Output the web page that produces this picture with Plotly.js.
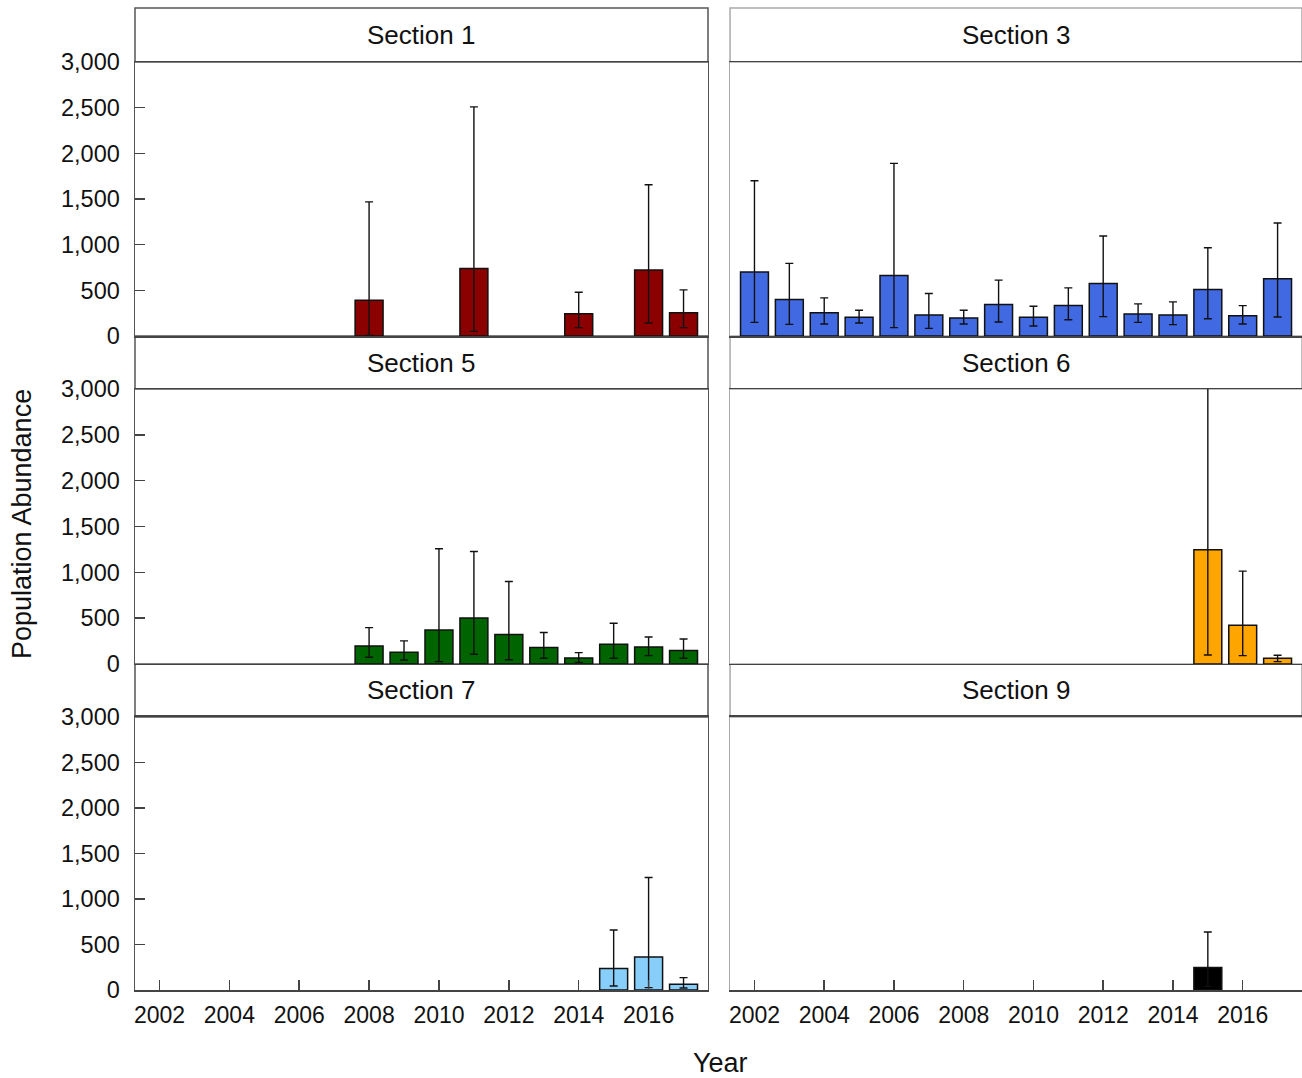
<!DOCTYPE html>
<html>
<head>
<meta charset="utf-8">
<script src="https://cdn.plot.ly/plotly-3.0.1.min.js"></script>
<style>html,body{margin:0;padding:0;background:#fff;}#chart{width:1302px;height:1078px;}</style>
</head>
<body>
<div id="chart"></div>
<script>
// ---- data (values, upper and lower error limits) ----
const sectionNames = ["Section 1", "Section 3", "Section 5", "Section 6", "Section 7", "Section 9"];
const sectionColors = ["#8B0000", "#4169E1", "#006400", "#FFA500", "#87CEFA", "#000000"];

const s1Years = [2008, 2011, 2014, 2016, 2017];
const s1Value = [392, 740, 245, 722, 256];
const s1Upper = [1469, 2509, 480, 1656, 505];
const s1Lower = [7, 51, 92, 143, 92];

const s3Years = [2002, 2003, 2004, 2005, 2006, 2007, 2008, 2009, 2010, 2011, 2012, 2013, 2014, 2015, 2016, 2017];
const s3Value = [700, 399, 256, 205, 663, 231, 198, 344, 205, 333, 575, 242, 231, 509, 223, 626];
const s3Upper = [1700, 795, 418, 282, 1890, 465, 282, 612, 326, 527, 1095, 352, 374, 967, 333, 1238];
const s3Lower = [150, 128, 132, 143, 92, 84, 132, 154, 110, 179, 212, 150, 125, 190, 132, 209];

const s5Years = [2008, 2009, 2010, 2011, 2012, 2013, 2014, 2015, 2016, 2017];
const s5Value = [197, 128, 372, 503, 321, 179, 66, 215, 186, 146];
const s5Upper = [397, 252, 1258, 1228, 900, 343, 124, 445, 295, 273];
const s5Lower = [73, 44, 26, 106, 47, 62, 18, 62, 91, 62];

const s6Years = [2015, 2016, 2017];
const s6Value = [1247, 423, 62];
const s6Upper = [3300, 1013, 95];
const s6Lower = [98, 91, 26];

const s7Years = [2015, 2016, 2017];
const s7Value = [235, 363, 62];
const s7Upper = [660, 1236, 136];
const s7Lower = [44, 26, 22];

const s9Years = [2015];
const s9Value = [246];
const s9Upper = [638];
const s9Lower = [40];

const yTickVals = [0, 500, 1000, 1500, 2000, 2500, 3000];
const xTickVals = [2002, 2004, 2006, 2008, 2010, 2012, 2014, 2016];

const series = [
  [s1Years, s1Value, s1Upper, s1Lower],
  [s3Years, s3Value, s3Upper, s3Lower],
  [s5Years, s5Value, s5Upper, s5Lower],
  [s6Years, s6Value, s6Upper, s6Lower],
  [s7Years, s7Value, s7Upper, s7Lower],
  [s9Years, s9Value, s9Upper, s9Lower]
];

// ---- layout geometry ----
const FONT = "Liberation Sans, Arial, sans-serif";
const xDomains = [[0, 0.491], [0.5099, 1]];
const yDomains = [[0.7047, 1], [0.3513, 0.6476], [0, 0.2942]];
const stripTop = 1.0582;

const traces = [];
const layout = {
  width: 1302, height: 1078,
  margin: {l: 135, r: 0, t: 62, b: 88},
  paper_bgcolor: "#fff", plot_bgcolor: "#fff",
  showlegend: false,
  font: {family: FONT, size: 23, color: "#111"},
  shapes: [], annotations: []
};

series.forEach((s, i) => {
  const row = Math.floor(i / 2), col = i % 2;
  const n = i + 1;
  const xa = n === 1 ? "x" : "x" + n;
  const ya = n === 1 ? "y" : "y" + n;
  traces.push({
    type: "bar", x: s[0], y: s[1], xaxis: xa, yaxis: ya,
    width: 0.8,
    marker: {color: sectionColors[i], line: {color: "#111", width: 1.5}},
    error_y: {
      type: "data", symmetric: false,
      array: s[2].map((u, k) => u - s[1][k]),
      arrayminus: s[1].map((v, k) => v - s[3][k]),
      color: "#111", thickness: 1.4, width: 4
    },
    hoverinfo: "x+y"
  });
  const bottom = row === 2;
  const left = col === 0;
  const vcol = left ? "#555" : "#aaa";
  layout["xaxis" + (n === 1 ? "" : n)] = {
    domain: xDomains[col], anchor: ya, range: [2001.3, 2017.7],
    showgrid: false, zeroline: false,
    showline: true, mirror: true, linecolor: "#444", linewidth: 1.5,
    tickvals: xTickVals, ticktext: xTickVals.map(String),
    ticks: bottom ? "inside" : "", ticklen: 10, tickcolor: "#444", tickwidth: 1.5,
    showticklabels: bottom, ticklabelstandoff: 4,
    tickfont: {family: FONT, size: 23, color: "#111"}
  };
  layout["yaxis" + (n === 1 ? "" : n)] = {
    domain: yDomains[row], anchor: xa, range: [0, 3000],
    showgrid: false, zeroline: false,
    showline: true, mirror: true, linecolor: vcol, linewidth: 1.5,
    tickvals: yTickVals, tickformat: ",",
    ticks: left ? "inside" : "", ticklen: 10, tickcolor: "#444", tickwidth: 1.5,
    showticklabels: left, ticklabelstandoff: 9,
    tickfont: {family: FONT, size: 23.5, color: "#111"}
  };
  // strip box above panel
  const sy0 = yDomains[row][1];
  const sy1 = row === 0 ? stripTop : yDomains[row - 1][0];
  layout.shapes.push({
    type: "rect", xref: "paper", yref: "paper",
    x0: xDomains[col][0], x1: xDomains[col][1], y0: sy0, y1: sy1,
    line: {color: vcol, width: 1.5}, fillcolor: "rgba(0,0,0,0)", layer: "below"
  });
  layout.annotations.push({
    xref: "paper", yref: "paper", showarrow: false,
    x: (xDomains[col][0] + xDomains[col][1]) / 2, y: (sy0 + sy1) / 2,
    xanchor: "center", yanchor: "middle",
    text: sectionNames[i], font: {family: FONT, size: 26, color: "#111"}
  });
});

layout.annotations.push({
  xref: "paper", yref: "paper", showarrow: false,
  x: 0.5013, y: -0.0787, xanchor: "center", yanchor: "middle",
  text: "Year", font: {family: FONT, size: 27, color: "#111"}
});
layout.annotations.push({
  xref: "paper", yref: "paper", showarrow: false,
  x: -0.0968, y: 0.5021, xanchor: "center", yanchor: "middle", textangle: -90,
  text: "Population Abundance", font: {family: FONT, size: 27, color: "#111"}
});

Plotly.newPlot("chart", traces, layout, {staticPlot: true, displayModeBar: false});
</script>
</body>
</html>
